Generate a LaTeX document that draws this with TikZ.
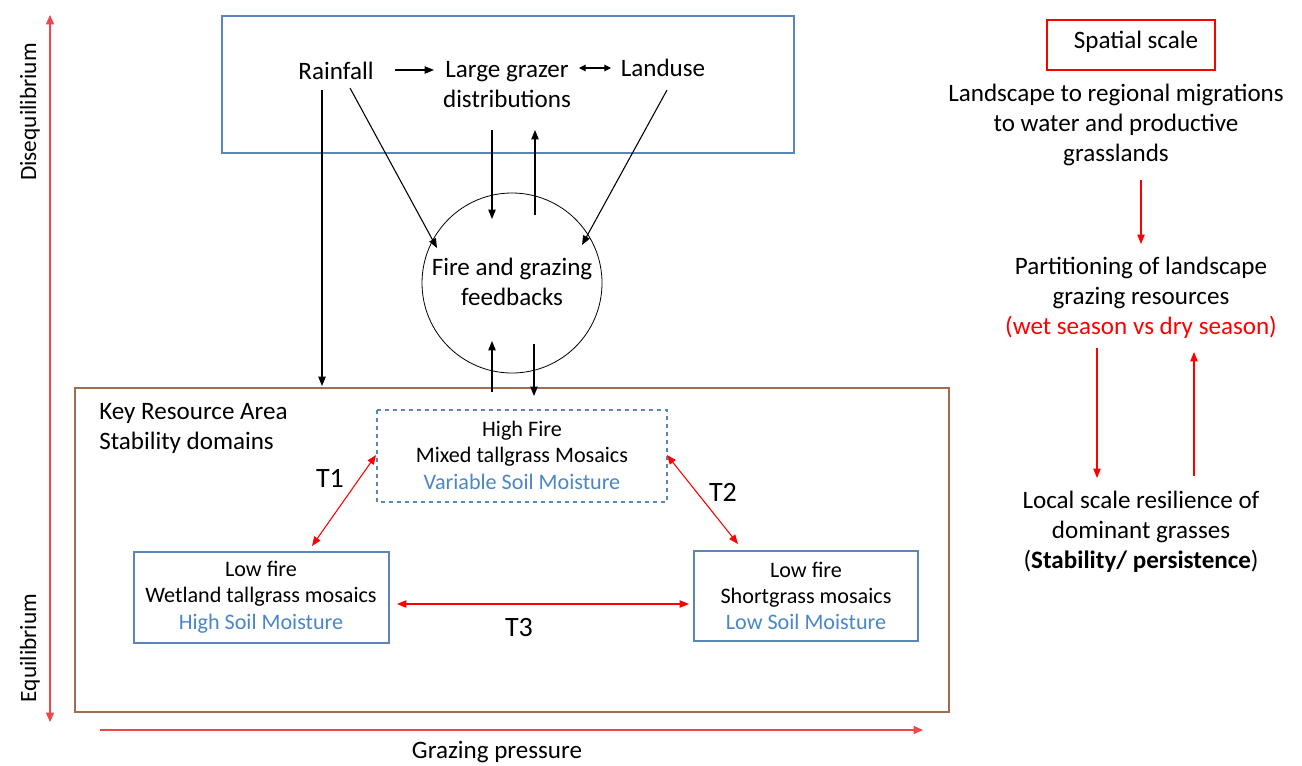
\documentclass[tikz,border=0pt]{standalone}
\usepackage{fontspec}
\setmainfont{Carlito}
\usetikzlibrary{arrows.meta}
\definecolor{boxblue}{HTML}{5B84B8}
\definecolor{txtblue}{HTML}{4A86C8}
\definecolor{kbrown}{HTML}{A06E4E}
\definecolor{axred}{HTML}{F04848}
\begin{document}
\begin{tikzpicture}[x=0.75pt,y=-0.75pt,
  txt/.style={inner sep=0pt,align=center,font=\fontsize{18.8}{22.5}\selectfont},
  ttxt/.style={inner sep=0pt,font=\fontsize{21}{24}\selectfont},
  axtxt/.style={inner sep=0pt,align=center,font=\fontsize{17.5}{22.5}\selectfont},
  boxtxt/.style={inner sep=0pt,align=center,font=\fontsize{16.6}{19.8}\selectfont},
  blk/.style={draw=black,line width=0.8pt,-{Triangle[length=7pt,width=5.5pt]}},
  blkd/.style={draw=black,line width=0.8pt,{Triangle[length=5pt,width=5pt]}-{Triangle[length=5pt,width=5pt]}},
  redar/.style={draw=red,line width=0.8pt,-{Triangle[length=7pt,width=5.5pt]}},
  redd/.style={draw=red,line width=0.8pt,{Triangle[length=7pt,width=5.5pt]}-{Triangle[length=7pt,width=5.5pt]}},
  axis/.style={draw=axred,line width=1pt,-{Triangle[length=7pt,width=6pt]}}]
\useasboundingbox (0,0) rectangle (1302,765);
\fill[white] (0,0) rectangle (1302,765);

% frames
\draw[boxblue,line width=0.8pt] (222,16) rectangle (794,153);
\draw[kbrown,line width=0.8pt] (75,388) rectangle (949,712);
\node[draw=black,line width=0.6pt,circle,minimum size=135pt,inner sep=0pt] (fb) at (512,283) {};
\draw[boxblue,line width=0.8pt,dashed] (377,410) rectangle (667,502);
\draw[boxblue,line width=0.8pt] (134,552) rectangle (389,643);
\draw[boxblue,line width=0.8pt] (694,551) rectangle (918,641);

% top box labels
\node[txt] (rain) at (336,71) {Rainfall};
\node[txt] (graz) at (507,85) {Large grazer\\distributions};
\node[txt] (land) at (663,68) {Landuse};
\node[txt] (fbt) at (512,282) {Fire and grazing\\feedbacks};

% stability domain labels
\node[txt,anchor=west,align=left] (kra) at (99,428) {Key Resource Area\\Stability domains};
\node[boxtxt] (hf) at (522,455) {High Fire\\Mixed tallgrass Mosaics\\\textcolor{txtblue}{Variable Soil Moisture}};
\node[boxtxt] (wl) at (261,597) {Low fire\\Wetland tallgrass mosaics\\\textcolor{txtblue}{High Soil Moisture}};
\node[boxtxt] (sg) at (806,596) {Low fire\\Shortgrass mosaics\\\textcolor{txtblue}{Low Soil Moisture}};
\node[ttxt] (t1) at (330,478) {T1};
\node[ttxt] (t2) at (723,492) {T2};
\node[ttxt] (t3) at (519,627) {T3};

% axes labels
\node[axtxt,rotate=90] (diseq) at (30,112) {Disequilibrium};
\node[axtxt,rotate=90] (eq) at (30,648) {Equilibrium};
\node[txt] (gp) at (497,752) {Grazing pressure};

% spatial scale column
\node[draw=red,line width=1pt,minimum width=126pt,minimum height=37.5pt,inner sep=0pt] (ss) at (1131,45) {};
\node[txt] (sst) at (1136,42) {Spatial scale};
\node[txt] (ls) at (1116,125) {Landscape to regional migrations\\to water and productive\\grasslands};
\node[txt] (pt) at (1141,298) {Partitioning of landscape\\grazing resources\\\textcolor{red}{(wet season vs dry season)}};
\node[txt] (lc) at (1141,532) {Local scale resilience of\\dominant grasses\\(\textbf{Stability/ persistence})};

% connector end points
\coordinate (r1) at (322,90);   \coordinate (r2) at (322,386);
\coordinate (r3) at (350,88);   \coordinate (r4) at (437,248);
\coordinate (l1) at (667,90);   \coordinate (l2) at (582,245);
\coordinate (gd1) at (492,130); \coordinate (gd2) at (492,219);
\coordinate (gu1) at (535,215); \coordinate (gu2) at (535,130);
\coordinate (bu1) at (492,392); \coordinate (bu2) at (492,341);
\coordinate (bd1) at (534,344); \coordinate (bd2) at (534,396);
\coordinate (ra1) at (395,70);  \coordinate (ra2) at (434,70);
\coordinate (ga1) at (579,68);  \coordinate (ga2) at (611,68);
\coordinate (t1a) at (312,546); \coordinate (t1b) at (376,455);
\coordinate (t2a) at (667,455); \coordinate (t2b) at (738,544);
\coordinate (t3a) at (397,604); \coordinate (t3b) at (689,604);
\coordinate (vy1) at (50,722);  \coordinate (vy2) at (50,15);
\coordinate (hx1) at (100,730); \coordinate (hx2) at (923,730);
\coordinate (s1) at (1141,180); \coordinate (s2) at (1141,244);
\coordinate (s3) at (1097,348); \coordinate (s4) at (1097,478);
\coordinate (s5) at (1194,476); \coordinate (s6) at (1194,352);

% black connectors
\draw[blk] (ra1) -- (ra2);
\draw[blkd] (ga1) -- (ga2);
\draw[blk] (r1) -- (r2);
\draw[blk] (r3) -- (r4);
\draw[blk] (l1) -- (l2);
\draw[blk] (gd1) -- (gd2);
\draw[blk] (gu1) -- (gu2);
\draw[blk] (bu1) -- (bu2);
\draw[blk] (bd1) -- (bd2);

% transitions
\draw[redd] (t1a) -- (t1b);
\draw[redd] (t2a) -- (t2b);
\draw[redd] (t3a) -- (t3b);

% axes
\draw[axis,{Triangle[length=7pt,width=6pt]}-{Triangle[length=7pt,width=6pt]}] (vy1) -- (vy2);
\draw[axis] (hx1) -- (hx2);

% scale arrows
\draw[redar] (s1) -- (s2);
\draw[redar] (s3) -- (s4);
\draw[redar] (s5) -- (s6);
\end{tikzpicture}
\end{document}
